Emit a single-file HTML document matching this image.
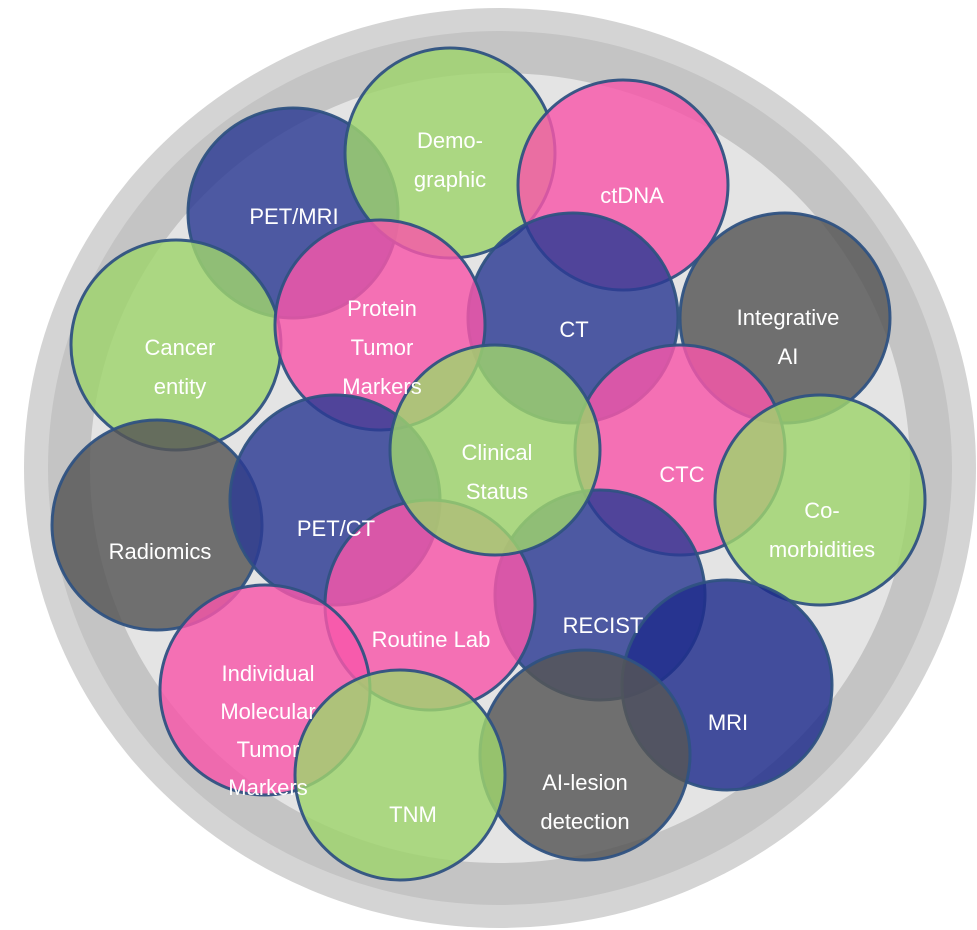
<!DOCTYPE html>
<html><head><style>
html,body{margin:0;padding:0;background:#fff;}
svg{display:block;}
text{font-family:"Liberation Sans",sans-serif;font-size:22px;fill:#fff;text-anchor:middle;}
circle.c{stroke:#2f5282;stroke-width:3;fill-opacity:0.82;stroke-opacity:0.95;}
</style></head><body>
<svg width="977" height="930" viewBox="0 0 977 930">
<ellipse cx="500" cy="468" rx="476" ry="460" fill="#d4d4d4"/>
<ellipse cx="500" cy="468" rx="452" ry="437" fill="#c4c4c4"/>
<ellipse cx="500" cy="468" rx="410" ry="395" fill="#e4e4e4"/>
<circle class="c" cx="293" cy="213" r="105" fill="#2c3b94"/>
<circle class="c" cx="450" cy="153" r="105" fill="#9fd46c"/>
<circle class="c" cx="623" cy="185" r="105" fill="#f857aa"/>
<circle class="c" cx="573" cy="318" r="105" fill="#2c3b94"/>
<circle class="c" cx="785" cy="318" r="105" fill="#555"/>
<circle class="c" cx="176" cy="345" r="105" fill="#9fd46c"/>
<circle class="c" cx="380" cy="325" r="105" fill="#f857aa"/>
<circle class="c" cx="680" cy="450" r="105" fill="#f857aa"/>
<circle class="c" cx="820" cy="500" r="105" fill="#9fd46c"/>
<circle class="c" cx="157" cy="525" r="105" fill="#555"/>
<circle class="c" cx="335" cy="500" r="105" fill="#2c3b94"/>
<circle class="c" cx="600" cy="595" r="105" fill="#2c3b94"/>
<circle class="c" cx="430" cy="605" r="105" fill="#f857aa"/>
<circle class="c" cx="495" cy="450" r="105" fill="#9fd46c"/>
<circle class="c" cx="727" cy="685" r="105" fill="#1e2c8c"/>
<circle class="c" cx="585" cy="755" r="105" fill="#555"/>
<circle class="c" cx="265" cy="690" r="105" fill="#f857aa"/>
<circle class="c" cx="400" cy="775" r="105" fill="#9fd46c"/>
<text x="294" y="224">PET/MRI</text>
<text x="450" y="148">Demo-</text><text x="450" y="187">graphic</text>
<text x="632" y="203">ctDNA</text>
<text x="574" y="337">CT</text>
<text x="788" y="325">Integrative</text><text x="788" y="364">AI</text>
<text x="180" y="355">Cancer</text><text x="180" y="394">entity</text>
<text x="382" y="316">Protein</text><text x="382" y="355">Tumor</text><text x="382" y="394">Markers</text>
<text x="497" y="460">Clinical</text><text x="497" y="499">Status</text>
<text x="682" y="482">CTC</text>
<text x="822" y="518">Co-</text><text x="822" y="557">morbidities</text>
<text x="160" y="559">Radiomics</text>
<text x="336" y="536">PET/CT</text>
<text x="431" y="647">Routine Lab</text>
<text x="603" y="633">RECIST</text>
<text x="728" y="730">MRI</text>
<text x="585" y="790">AI-lesion</text><text x="585" y="829">detection</text>
<text x="268" y="681">Individual</text><text x="268" y="719">Molecular</text><text x="268" y="757">Tumor</text><text x="268" y="795">Markers</text>
<text x="413" y="822">TNM</text>
</svg>
</body></html>
